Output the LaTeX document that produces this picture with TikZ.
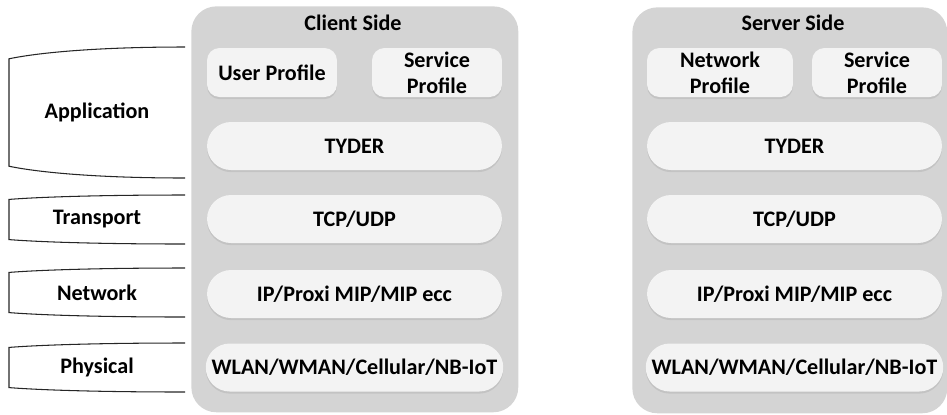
\documentclass[tikz,border=0pt]{standalone}
\usepackage{fontspec}
\setmainfont{Carlito}
\usetikzlibrary{positioning}
\usetikzlibrary{shadows}
\definecolor{panelgray}{RGB}{212,212,212}
\definecolor{boxgray}{RGB}{243,243,243}

\begin{document}
\begin{tikzpicture}[x=0.02cm, y=-0.02cm,
    every node/.style={font=\fontsize{12.6}{15}\selectfont\bfseries},
    panel/.style={fill=panelgray, rounded corners=0.5cm, minimum height=8.12cm, anchor=north west},
    layerbox/.style={fill=boxgray, rounded corners=0.48cm, minimum width=5.9cm, minimum height=0.96cm,
      drop shadow={shadow xshift=0pt, shadow yshift=-1.2pt, opacity=0.2, fill=gray}},
    profile/.style={fill=boxgray, rounded corners=0.25cm, minimum height=0.98cm, align=center,
      inner sep=1pt, drop shadow={shadow xshift=0pt, shadow yshift=-1.2pt, opacity=0.2, fill=gray}},
    bracket/.style={draw=black!85, line width=0.6pt}]
  \useasboundingbox (0,0) rectangle (947,414);

  % the two stacks
  \node[panel, minimum width=6.54cm] (client) at (191,6) {};
  \node[panel, minimum width=6.30cm] (server) at (632,7) {};
  \node (client-title) at (353,23) {Client Side};
  \node (server-title) at (793,23) {Server Side};

  \node[profile, minimum width=2.6cm] (c-user) at (272,72.5) {User Profile};
  \node[profile, minimum width=2.6cm] (c-service) at (437,72.5) {Service\\Profile};
  \node[layerbox] (c-tyder) at (354.5,146) {TYDER};
  \node[layerbox] (c-tcp) at (354.5,219) {TCP/UDP};
  \node[layerbox] (c-ip) at (354.5,294) {IP/Proxi MIP/MIP ecc};
  \node[layerbox] (c-wlan) at (354.5,367.5) {WLAN/WMAN/Cellular/NB-IoT};

  \node[profile, minimum width=2.92cm] (s-network) at (720,72.5) {Network\\Profile};
  \node[profile, minimum width=2.6cm] (s-service) at (877,72.5) {Service\\Profile};
  \node[layerbox] (s-tyder) at (794.5,146) {TYDER};
  \node[layerbox] (s-tcp) at (794.5,219) {TCP/UDP};
  \node[layerbox] (s-ip) at (794.5,294) {IP/Proxi MIP/MIP ecc};
  \node[layerbox] (s-wlan) at (794.5,367.5) {WLAN/WMAN/Cellular/NB-IoT};

  % layer brackets on the left
  \foreach \top/\bot/\name in {47/178/Application, 195/244/Transport, 268/317/Network, 343/392/Physical} {
    \pgfmathsetmacro\off{0.09*(\bot-\top)}
    \draw[bracket] (185,\top) .. controls (100,\top) and (40,\top+0.45*\off) .. (9,\top+\off)
      -- (9,\bot-\off) .. controls (40,\bot-0.45*\off) and (100,\bot) .. (185,\bot);
    \node (\name) at (97,{(\top+\bot)/2}) {\name};
  }
\end{tikzpicture}
\end{document}
